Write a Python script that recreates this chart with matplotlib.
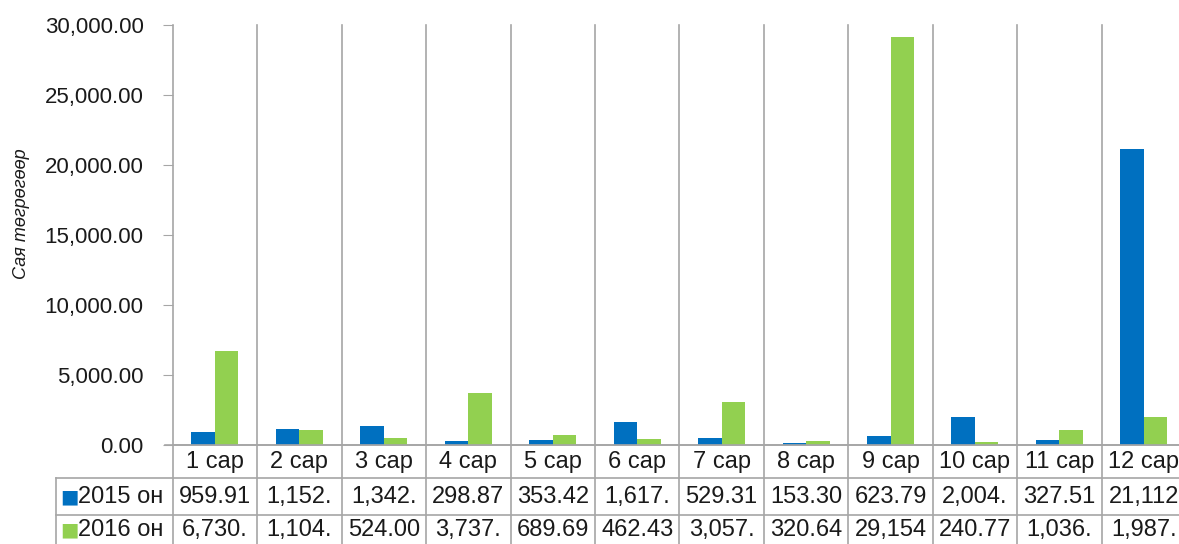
import numpy as np
import matplotlib.pyplot as plt
from matplotlib.transforms import blended_transform_factory

plt.rcParams['font.family'] = ['Liberation Sans', 'DejaVu Sans']

months = ["1 сар", "2 сар", "3 сар", "4 сар", "5 сар", "6 сар",
          "7 сар", "8 сар", "9 сар", "10 сар", "11 сар", "12 сар"]
series_names = ["2015 он", "2016 он"]
values_2015 = [959.91, 1152.0, 1342.0, 298.87, 353.42, 1617.0,
               529.31, 153.30, 623.79, 2004.0, 327.51, 21112.0]
values_2016 = [6730.0, 1104.0, 524.00, 3737.0, 689.69, 462.43,
               3057.0, 320.64, 29154.0, 240.77, 1036.0, 1987.0]
# table cells as Excel shows them (cut off to fit the cell)
labels_2015 = ["959.91", "1,152.", "1,342.", "298.87", "353.42", "1,617.",
               "529.31", "153.30", "623.79", "2,004.", "327.51", "21,112"]
labels_2016 = ["6,730.", "1,104.", "524.00", "3,737.", "689.69", "462.43",
               "3,057.", "320.64", "29,154", "240.77", "1,036.", "1,987."]
yticks = np.arange(0, 30001, 5000)

blue = "#0070C0"
green = "#92D050"
grid_c = "#A6A6A6"

W, H = 1179, 544
fig = plt.figure(figsize=(W / 100, H / 100), dpi=100)
x0, cw = 172.7, 84.45
ax = fig.add_axes([x0 / W, (H - 445) / H, 12 * cw / W, 420 / H])

x = np.arange(len(months)) + 0.5
bw = 0.278
ax.bar(x - bw / 2, values_2015, bw, color=blue, zorder=3)
ax.bar(x + bw / 2, values_2016, bw, color=green, zorder=3)

ax.set_xlim(0, 12)
ax.set_ylim(0, 30000)
ax.set_yticks(yticks)
ax.set_yticklabels([f"{v:,.2f}" for v in yticks], fontsize=16)
ax.tick_params(axis='y', length=7, color=grid_c, pad=14, labelcolor="#1a1a1a")
ax.set_xticks([])
for s in ["top", "right", "left"]:
    ax.spines[s].set_visible(False)
ax.spines["bottom"].set_color(grid_c)
ax.spines["bottom"].set_linewidth(1.2)

ax.set_ylabel("Сая төгрөгөөр", fontsize=13, style="italic", labelpad=12,
              color="#1a1a1a")
ax.yaxis.set_label_coords(-0.141, 0.55)

# data table under the plot
tr = blended_transform_factory(ax.transData, fig.transFigure)
fy = lambda py: 1 - py / H
left_edge = -(x0 - 55.7) / cw
lk = dict(color=grid_c, lw=1.2, transform=tr, clip_on=False)

# vertical separators run from the plot top down through the table
for i in range(13):
    fig.add_artist(plt.Line2D([i, i], [fy(25), fy(H + 5)], **lk))
fig.add_artist(plt.Line2D([-(x0 - 165) / cw, 12], [fy(445), fy(445)], **lk))
for py in [478.3, 515]:
    fig.add_artist(plt.Line2D([left_edge, 12], [fy(py), fy(py)], **lk))
fig.add_artist(plt.Line2D([left_edge, left_edge], [fy(478.3), fy(H + 5)], **lk))

tk = dict(transform=tr, fontsize=17, ha="center", va="center", color="#1a1a1a")
for i, m in enumerate(months):
    fig.text(x[i], fy(462), m, **tk)
    fig.text(x[i], fy(497), labels_2015[i], **tk)
    fig.text(x[i], fy(530), labels_2016[i], **tk)

for name, col, py in [(series_names[0], blue, 497), (series_names[1], green, 530)]:
    fig.text(-(x0 - 69) / cw, fy(py), "■", transform=tr, fontsize=14,
             ha="center", va="center", color=col, family="DejaVu Sans")
    fig.text(-(x0 - 78) / cw, fy(py), name, transform=tr, fontsize=17,
             ha="left", va="center", color="#1a1a1a")

fig.savefig("out.png", dpi=100)
